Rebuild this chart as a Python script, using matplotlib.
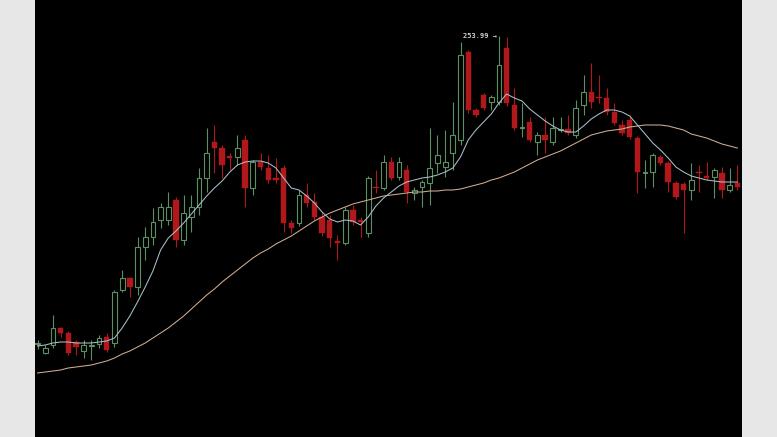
"""
Candlestick chart with two moving averages
"""

import numpy as np
import matplotlib
matplotlib.use("Agg")
import matplotlib.pyplot as plt

# OHLC prices, one entry per candle
opens = [
    100, 95.5, 99.5, 108, 105.5, 101, 96.5, 99, 100, 103.5,
    100.5, 127, 133, 128.5, 148.5, 153.5, 162, 162, 172, 152,
    163.5, 168.5, 183, 201, 198, 194, 193.5, 202, 178, 191,
    188, 183, 188, 160.5, 160.5, 174.5, 171, 163.5, 162, 151.5,
    150.5, 167, 162, 155.5, 178.5, 178, 191, 183.5, 187, 175.5,
    178.5, 180.5, 190.5, 188.5, 195.5, 202, 246, 217, 224.5, 221,
    221, 248, 219.5, 208, 211, 201, 204.5, 201, 207, 207.5,
    204.5, 219.5, 226, 223.5, 223, 216, 209.5, 212, 203, 185.5,
    186, 193.5, 190.5, 180.5, 180, 177, 186, 184, 183.5, 185.5,
    177, 180.5,
]
highs = [
    102, 99.5, 114.5, 108.5, 106.5, 102, 102, 102, 104.5, 105.5,
    127, 137, 133.5, 153.5, 158.5, 168, 170.5, 176, 173.5, 174.5,
    174.5, 188, 208, 209.5, 199.5, 195.5, 204.5, 204.5, 192, 195.5,
    194.5, 193, 189.5, 162, 177, 180.5, 175.5, 166, 164.5, 154.5,
    168.5, 169.5, 163.5, 184, 187, 194.5, 193.5, 193.5, 189.5, 178.5,
    182, 208, 204.5, 207, 221, 251, 247, 218, 225.5, 224.5,
    253.99, 253.5, 228, 220.5, 213.5, 206, 213.5, 213.5, 213.5, 214.5,
    222, 234.5, 240.5, 234.5, 228, 220.5, 212, 214.5, 204, 192,
    195.5, 194.5, 191.5, 181.5, 181, 190.5, 189.5, 191, 188, 188.5,
    188, 189.5,
]
lows = [
    97.5, 95, 98, 103.5, 94.5, 94.5, 93, 92, 98, 96,
    98.5, 126, 123.5, 124.5, 142, 149.5, 158, 159.5, 148.5, 149.5,
    156, 164.5, 176, 185.5, 183, 187, 189.5, 168.5, 174.5, 187,
    180.5, 180.5, 156, 155.5, 159, 168.5, 162, 154, 148.5, 142,
    149.5, 159.5, 153.5, 153.5, 175.5, 177, 182, 182, 170.5, 172,
    168.5, 169.5, 185.5, 183.5, 187, 199.5, 215.5, 213.5, 217, 217,
    219.5, 219, 207, 203.5, 201, 194.5, 195.5, 199.5, 206, 204.5,
    203, 214.5, 218, 220.5, 214.5, 209.5, 204.5, 202.5, 175.5, 178,
    178.5, 189.5, 176, 172.5, 155.5, 172, 176, 182, 173, 173,
    176, 177,
]
closes = [
    100.5, 98, 108, 105.5, 95.5, 98.5, 99.5, 99.5, 103, 97,
    126, 133, 128.5, 148.5, 153.5, 161, 168.5, 168.5, 152, 165.5,
    168.5, 183, 195.5, 198, 189.5, 193, 198, 178, 191, 188.5,
    182, 182, 160.5, 158, 174.5, 170.5, 163.5, 155.5, 153, 150.5,
    167, 161, 161, 183, 178, 191, 183, 191, 176, 177,
    181, 188, 194.5, 191, 204.5, 244.5, 217, 214.5, 218, 223.5,
    239.5, 220.5, 208, 208.5, 202, 204.5, 202, 208, 207.5, 205.5,
    218, 226, 221, 223, 216, 210.5, 205.5, 203.5, 186, 186,
    194.5, 190.5, 181, 173.5, 177, 182, 185.5, 183, 187, 177,
    179.5, 178.5,
]

# moving averages
ma_short = [
    99, 99.5, 100.5, 101, 101, 100.5, 100.5, 100.5, 101, 101.5,
    103, 108, 114, 121, 128.5, 136.5, 147, 153, 156.5, 160.5,
    165, 169.5, 174, 178, 181.5, 186, 189.5, 191, 191.5, 191.5,
    190.5, 188, 183, 178, 177, 174, 170.5, 166, 162.5, 161,
    162, 161.5, 159.5, 163.5, 169, 173, 176, 179, 181, 182,
    183, 183.5, 184.5, 186, 188, 193.5, 202, 207, 211, 215,
    220.5, 225, 223, 221.5, 217.5, 214.5, 211.5, 209, 207, 206,
    206, 209, 212.5, 215, 217, 217, 216, 214, 209.5, 205,
    200.5, 197, 193, 188.5, 186, 184, 183, 182, 181.5, 181,
    181, 181,
]
ma_long = [
    85.5, 86, 86.5, 87, 88, 88.5, 89, 89.5, 90.5, 91.5,
    93, 95, 96.5, 98.5, 100.5, 103, 105.5, 108, 111, 114,
    117.5, 121, 124.5, 127.5, 131, 134, 137, 140, 143, 145.5,
    147.5, 150, 152, 154, 156.5, 159, 161.5, 163.5, 165.5, 167,
    168.5, 170, 171, 172, 173, 174, 174.5, 175, 175.5, 176,
    176, 176.5, 176.5, 177, 177, 177.5, 178.5, 179.5, 180.5, 182,
    183, 184.5, 186, 188, 190, 192, 193.5, 195, 196.5, 198.5,
    200.5, 202.5, 204.5, 205.5, 206.5, 207, 207.5, 208.5, 209, 209.5,
    209.5, 209.5, 209, 208, 207, 205, 204, 203, 201.5, 200,
    199, 198,
]

GREEN = "#5a9160"
RED = "#b0181b"

x = np.arange(len(closes))
o = np.array(opens)
c = np.array(closes)
up = c >= o

fig = plt.figure(figsize=(7.77, 4.37), dpi=100, facecolor="#e7e7e7")
ax = fig.add_axes([35 / 777, 0, 707 / 777, 1])
ax.set_facecolor("black")

# wicks
colors = [GREEN if u else RED for u in up]
ax.vlines(x, lows, highs, colors=colors, linewidth=0.8, zorder=1)

# bodies
bottom = np.minimum(o, c)
height = np.maximum(np.abs(c - o), 0.6)
ax.bar(x[up], height[up], bottom=bottom[up], width=0.62,
       facecolor="black", edgecolor=GREEN, linewidth=0.8, zorder=2)
ax.bar(x[~up], height[~up], bottom=bottom[~up], width=0.7,
       facecolor=RED, edgecolor=RED, linewidth=0.3, zorder=2)

ax.plot(x, ma_long, color="#d2ad92", linewidth=0.75, zorder=3)
ax.plot(x, ma_short, color="#a9c0cb", linewidth=0.75, zorder=3)

top = int(np.argmax(highs))
ax.text(top - 0.3, highs[top], "253.99 \u2192", color="#d0d0d0",
        fontsize=5, family="DejaVu Sans Mono", ha="right", va="center",
        fontweight="bold")

ax.set_xlim(-0.33, 91.6)
ax.set_ylim(53.5, 272)
ax.set_xticks([])
ax.set_yticks([])
for side in ax.spines.values():
    side.set_visible(False)

fig.savefig("out.png", dpi=100, facecolor=fig.get_facecolor())
plt.close(fig)
